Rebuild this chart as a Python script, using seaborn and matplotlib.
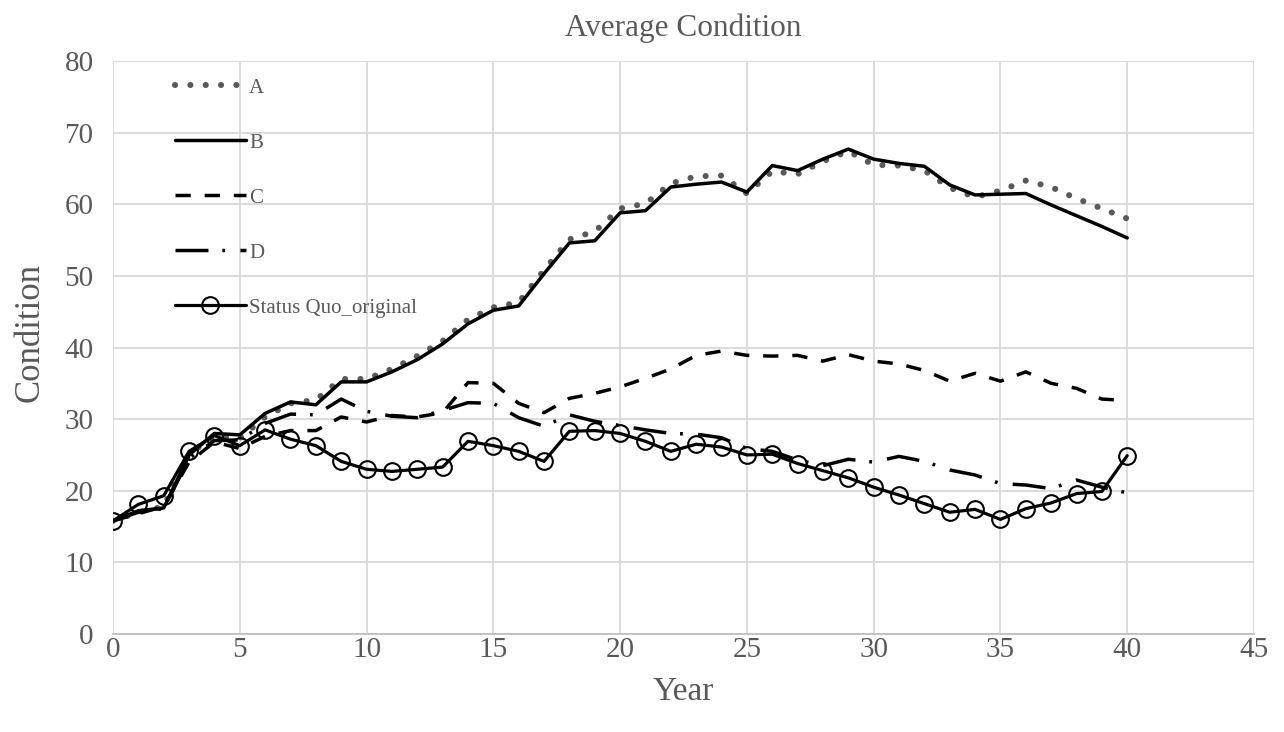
import matplotlib
matplotlib.use("Agg")
import matplotlib.pyplot as plt
import numpy as np
import pandas as pd
import seaborn as sns

years = list(range(41))

series_a = [15.8, 17.0, 17.8, 25.2, 27.5, 27.3, 30.3, 32.2, 32.7, 35.6, 35.6, 37.0, 38.8, 40.9,
            43.9, 45.6, 46.3, 50.8, 55.1, 56.2, 59.4, 60.1, 62.9, 63.9, 64.0, 61.5, 64.6, 64.2,
            66.0, 67.4, 65.5, 65.4, 64.7, 62.3, 61.0, 61.9, 63.3, 62.4, 60.8, 59.4, 58.0]
series_b = [15.8, 17.2, 17.6, 25.0, 28.0, 27.8, 30.8, 32.4, 32.0, 35.2, 35.2, 36.6, 38.3, 40.5,
            43.3, 45.2, 45.8, 50.3, 54.6, 54.9, 58.8, 59.1, 62.4, 62.8, 63.1, 61.7, 65.4, 64.7,
            66.3, 67.7, 66.3, 65.7, 65.3, 62.7, 61.3, 61.4, 61.5, 59.9, 58.4, 56.9, 55.3]
series_c = [15.8, 16.8, 17.8, 24.0, 26.8, 25.9, 27.6, 28.4, 28.4, 30.3, 29.6, 30.5, 30.3, 30.9,
            35.1, 35.0, 32.2, 30.9, 32.9, 33.6, 34.5, 35.7, 37.0, 38.9, 39.5, 38.9, 38.8, 38.9,
            38.1, 39.0, 38.1, 37.7, 36.8, 35.3, 36.4, 35.3, 36.6, 35.0, 34.3, 32.8, 32.6]
series_d = [15.8, 17.0, 17.5, 24.5, 27.0, 27.1, 29.4, 30.7, 30.6, 32.8, 31.1, 30.4, 30.2, 31.2,
            32.3, 32.2, 30.2, 29.0, 30.6, 29.7, 29.1, 28.5, 28.0, 27.9, 27.4, 25.9, 25.5, 24.3,
            23.5, 24.4, 24.0, 24.8, 24.1, 22.9, 22.2, 21.0, 20.8, 20.3, 21.5, 20.5, 19.7]
status_quo = [15.8, 18.1, 19.3, 25.5, 27.7, 26.3, 28.5, 27.2, 26.3, 24.1, 23.0, 22.7, 23.0, 23.3,
              26.9, 26.3, 25.5, 24.1, 28.3, 28.4, 28.0, 26.9, 25.5, 26.5, 26.1, 25.0, 25.1, 23.8,
              22.8, 21.8, 20.5, 19.4, 18.2, 17.0, 17.4, 16.0, 17.5, 18.3, 19.6, 19.9, 24.9]

labels = ["A", "B", "C", "D", "Status Quo_original"]
title = "Average Condition"
x_label = "Year"
y_label = "Condition"
x_ticks = list(range(0, 46, 5))
y_ticks = list(range(0, 81, 10))

sns.set_theme(style="white")
plt.rcParams["font.family"] = ["Liberation Serif", "DejaVu Serif"]

grey_text = "#595959"

fig = plt.figure(figsize=(12.84, 7.32), dpi=100)
ax = fig.add_axes([113 / 1284, 1 - 634 / 732, (1254 - 113) / 1284, (634 - 61) / 732])

df = pd.DataFrame({"year": years, "A": series_a, "B": series_b, "C": series_c,
                   "D": series_d, "SQ": status_quo})

sns.lineplot(data=df, x="year", y="A", ax=ax, color="#595959", linewidth=4.4,
             linestyle=(0, (0.01, 2.5)), dash_capstyle="round", label=labels[0])
sns.lineplot(data=df, x="year", y="B", ax=ax, color="black", linewidth=2.5,
             label=labels[1])
sns.lineplot(data=df, x="year", y="C", ax=ax, color="black", linewidth=2.5,
             linestyle=(0, (4.4, 4.0)), label=labels[2])
sns.lineplot(data=df, x="year", y="D", ax=ax, color="black", linewidth=2.5,
             linestyle=(0, (9.5, 4.0, 0.8, 4.4)), label=labels[3])
sns.lineplot(data=df, x="year", y="SQ", ax=ax, color="black", linewidth=2.3,
             marker="o", markersize=12, markerfacecolor="none",
             markeredgecolor="black", markeredgewidth=1.5, label=labels[4])

ax.set_xlim(0, 45)
ax.set_ylim(0, 80)
ax.set_xticks(x_ticks)
ax.set_yticks(y_ticks)
ax.grid(True, color="#d9d9d9", linewidth=1.3)
ax.set_axisbelow(True)
for s in ["top", "right", "left"]:
    ax.spines[s].set_visible(False)
ax.spines["bottom"].set_color("#bfbfbf")
ax.spines["bottom"].set_linewidth(1.3)
ax.tick_params(axis="both", length=0, labelsize=21, labelcolor=grey_text)
ax.tick_params(axis="x", pad=2)
ax.tick_params(axis="y", pad=14)

ax.set_title(title, fontsize=22.5, color=grey_text, pad=18)
ax.set_xlabel(x_label, fontsize=24, color=grey_text, labelpad=10)
ax.set_ylabel(y_label, fontsize=25, color=grey_text)
ax.yaxis.set_label_coords(-0.058, 0.527)

leg = ax.legend(loc="upper left", bbox_to_anchor=(0.047, 0.985), frameon=False,
                fontsize=15, handlelength=3.4, handletextpad=0.15, labelspacing=1.7,
                borderaxespad=0)
for t in leg.get_texts():
    t.set_color(grey_text)

fig.savefig("out.png", dpi=100)
